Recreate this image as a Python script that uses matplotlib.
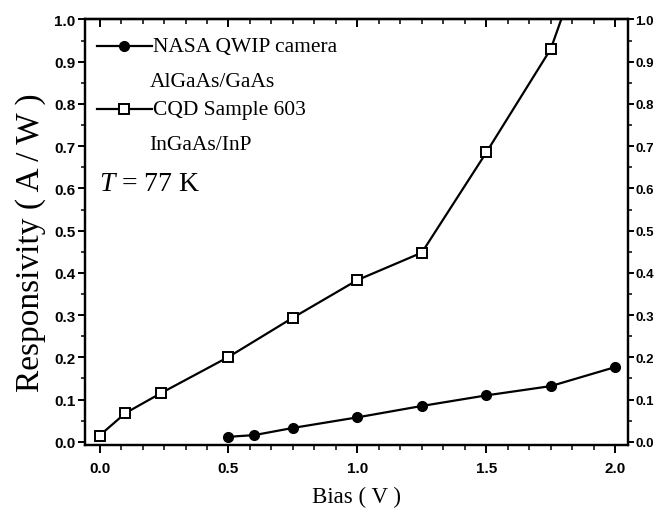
import matplotlib.pyplot as plt
from matplotlib.ticker import MultipleLocator, FormatStrFormatter

plt.rcParams['mathtext.fontset'] = 'custom'
plt.rcParams['mathtext.rm'] = 'Liberation Serif'
plt.rcParams['mathtext.it'] = 'Liberation Serif:italic'

# data
bias_nasa = [0.5, 0.6, 0.75, 1.0, 1.25, 1.5, 1.75, 2.0]
resp_nasa = [0.012, 0.016, 0.033, 0.058, 0.085, 0.11, 0.132, 0.177]

bias_cqd = [0.0, 0.1, 0.24, 0.5, 0.75, 1.0, 1.25, 1.5, 1.75, 2.0]
resp_cqd = [0.015, 0.068, 0.116, 0.201, 0.294, 0.383, 0.448, 0.685, 0.93, 1.36]

serif = 'Liberation Serif'
LW = 1.6

fig = plt.figure(figsize=(6.57, 5.1), dpi=100)
ax = fig.add_axes([0.13, 0.125, 0.826, 0.835])

ax.plot(bias_nasa, resp_nasa, color='black', lw=LW, marker='o', ms=7,
        mfc='black', mec='black')
ax.plot(bias_cqd, resp_cqd, color='black', lw=LW, marker='s', ms=6.5,
        mfc='white', mec='black', mew=1.4)

ax.set_xlim(-0.055, 2.05)
ax.set_ylim(-0.008, 1.0)

ax.xaxis.set_major_locator(MultipleLocator(0.5))
ax.xaxis.set_minor_locator(MultipleLocator(0.5 / 6))
ax.yaxis.set_major_locator(MultipleLocator(0.1))
ax.yaxis.set_minor_locator(MultipleLocator(0.05))
ax.xaxis.set_major_formatter(FormatStrFormatter('%.1f'))
ax.yaxis.set_major_formatter(FormatStrFormatter('%.1f'))

ax.tick_params(axis='x', which='major', direction='out', length=6, width=1.4, pad=5)
ax.tick_params(axis='x', which='minor', direction='out', length=3.5, width=1.1)
ax.tick_params(axis='y', which='major', direction='out', length=5, width=1.4, pad=2)
ax.tick_params(axis='y', which='minor', direction='out', length=3, width=1.1)
for lab in ax.get_xticklabels() + ax.get_yticklabels():
    lab.set_family('Liberation Sans')
    lab.set_fontsize(11)
    lab.set_fontweight('bold')

# mirrored top ticks pointing inward
top = ax.secondary_xaxis('top')
top.xaxis.set_major_locator(MultipleLocator(0.5))
top.xaxis.set_minor_locator(MultipleLocator(0.5 / 6))
top.tick_params(which='major', direction='in', length=6, width=1.4, labeltop=False)
top.tick_params(which='minor', direction='in', length=3.5, width=1.1)
top.spines['top'].set_linewidth(1.6)

# right axis with its own labels
ax2 = ax.twinx()
ax2.set_ylim(ax.get_ylim())
ax2.yaxis.set_major_locator(MultipleLocator(0.1))
ax2.yaxis.set_minor_locator(MultipleLocator(0.05))
ax2.yaxis.set_major_formatter(FormatStrFormatter('%.1f'))
ax2.tick_params(which='major', direction='out', length=4, width=1.4, pad=1)
ax2.tick_params(which='minor', direction='out', length=3, width=1.1)
for lab in ax2.get_yticklabels():
    lab.set_family('Liberation Sans')
    lab.set_fontsize(9.5)
    lab.set_fontweight('bold')

for a in (ax, ax2):
    for sp in a.spines.values():
        sp.set_linewidth(1.6)

ax.set_ylabel('Responsivity ( A / W )', family=serif, fontsize=24)
ax.yaxis.set_label_coords(-0.072, 0.479)
ax.set_xlabel('Bias ( V )', family=serif, fontsize=16.5, labelpad=8)

# legend drawn by hand
tr = ax.transAxes
def ax_xy(px, py):
    x0, x1 = 85, 628
    y0, y1 = 446, 20
    return (px - x0) / (x1 - x0), (py - y0) / (y1 - y0)

lx0, ly = ax_xy(97, 47)
lx1, _ = ax_xy(152, 47)
mx, _ = ax_xy(124, 47)
ax.plot([lx0, lx1], [ly, ly], color='black', lw=LW, transform=tr, clip_on=False)
ax.plot([mx], [ly], marker='o', ms=7, color='black', transform=tr)
tx, _ = ax_xy(153, 47)
ax.text(tx, ly, 'NASA QWIP camera', transform=tr, family=serif, fontsize=15.5, va='center')
tx2, ty2 = ax_xy(149, 82)
ax.text(tx2, ty2, 'AlGaAs/GaAs', transform=tr, family=serif, fontsize=15.5, va='center')

_, ly2 = ax_xy(97, 110)
ax.plot([lx0, lx1], [ly2, ly2], color='black', lw=LW, transform=tr, clip_on=False)
ax.plot([mx], [ly2], marker='s', ms=6.5, mfc='white', mec='black', mew=1.4, transform=tr)
ax.text(tx, ly2, 'CQD Sample 603', transform=tr, family=serif, fontsize=15.5, va='center')
_, ty4 = ax_xy(149, 145)
ax.text(tx2, ty4, 'InGaAs/InP', transform=tr, family=serif, fontsize=15.5, va='center')

tx5, ty5 = ax_xy(99, 184)
ax.text(tx5, ty5, r'$T$ = 77 K', transform=tr, family=serif, fontsize=20, va='center')

fig.savefig('out.png', dpi=100)
